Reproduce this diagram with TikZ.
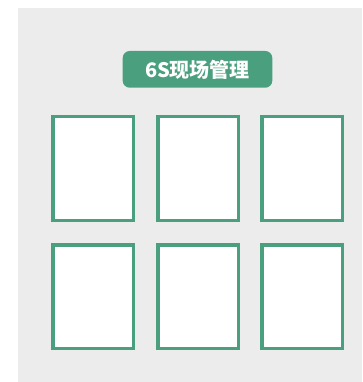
\documentclass[tikz,border=0pt]{standalone}
\usepackage{fontspec}
\newfontfamily\cjk{Noto Sans CJK SC}
\definecolor{bggray}{RGB}{236,236,236}
\definecolor{sgreen}{RGB}{74,160,126}
\begin{document}
\begin{tikzpicture}[x=1pt,y=-1pt,
  cell/.style={draw=sgreen,line width=3.5pt,fill=white,minimum width=80.5pt,minimum height=103.5pt,inner sep=0pt,outer sep=0pt,anchor=north west},
  titlebox/.style={fill=sgreen,rounded corners=7pt,minimum width=149.6pt,minimum height=36.7pt,inner sep=0pt,outer sep=0pt,anchor=north west,text=white,font=\cjk\bfseries\fontsize{20}{24}\selectfont}]
\useasboundingbox (0,0) rectangle (362,382);
\fill[bggray] (18,8) rectangle (362,382);
\node[titlebox] (title) at (122.7,51) {6S现场管理};
\node[cell] (c11) at (52.75,116.75) {};
\node[cell] (c12) at (157.75,116.75) {};
\node[cell] (c13) at (261.75,116.75) {};
\node[cell] (c21) at (52.75,244.75) {};
\node[cell] (c22) at (157.75,244.75) {};
\node[cell] (c23) at (261.75,244.75) {};
\end{tikzpicture}
\end{document}
